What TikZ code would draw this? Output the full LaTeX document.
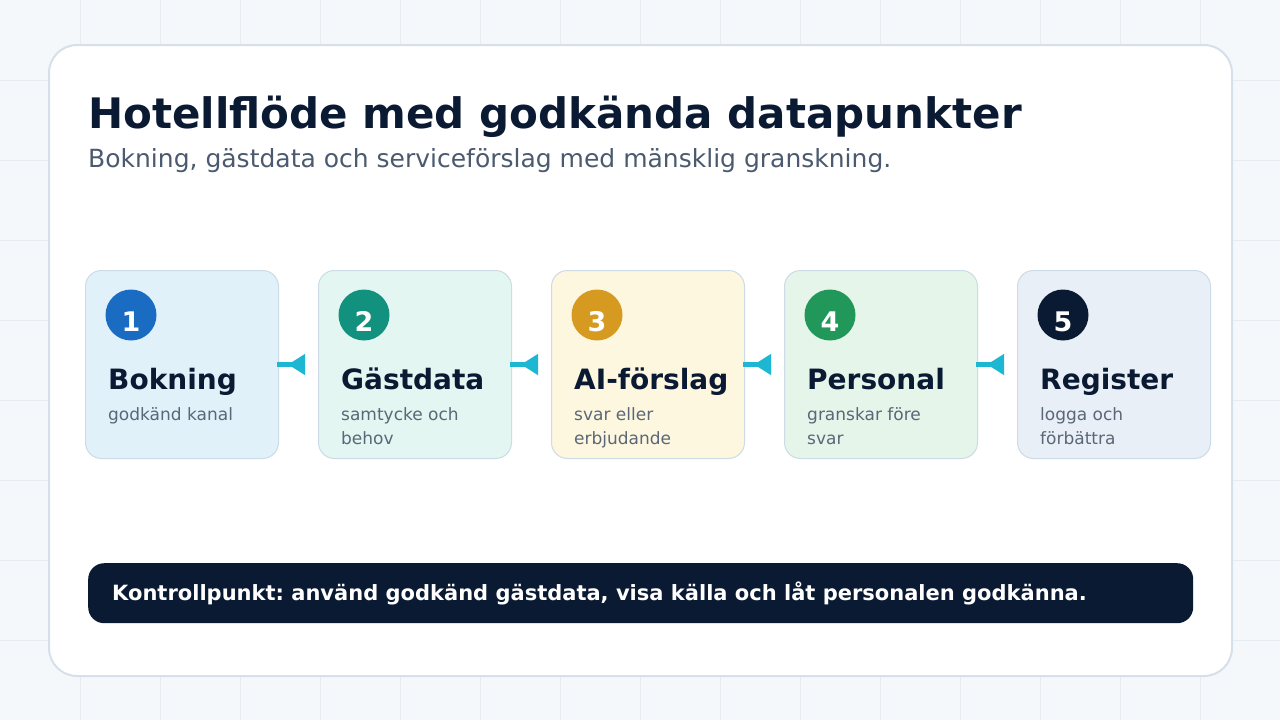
\documentclass[tikz,border=0pt]{standalone}
\usepackage{fontspec}
\setmainfont{DejaVu Sans}
\usepackage{tikz}
\usetikzlibrary{positioning,calc,arrows.meta}
\frenchspacing

\definecolor{ink}{HTML}{0B1A33}
\definecolor{slate}{HTML}{4B5A6E}
\definecolor{muted}{HTML}{5B6778}
\definecolor{paper}{HTML}{F5F8FB}
\definecolor{gridc}{HTML}{E5ECF2}
\definecolor{rim}{HTML}{D6E0EA}
\definecolor{cardrim}{HTML}{CCDBE5}
\definecolor{cyanarrow}{HTML}{1DB7D3}
\definecolor{fillA}{HTML}{E0F1FA}
\definecolor{fillB}{HTML}{E3F6F1}
\definecolor{fillC}{HTML}{FEF7E0}
\definecolor{fillD}{HTML}{E5F5EA}
\definecolor{fillE}{HTML}{E9EFF7}
\definecolor{dotA}{HTML}{1A6CC3}
\definecolor{dotB}{HTML}{13917F}
\definecolor{dotC}{HTML}{D69A21}
\definecolor{dotD}{HTML}{21985A}
\definecolor{dotE}{HTML}{0B1A33}

% lines of a card text, aligned on the first baseline
\newcommand{\cardlines}[1]{\begin{tabular}[t]{@{}l@{}}#1\end{tabular}}

\begin{document}
\begin{tikzpicture}
  [
    x=1pt, y=-1pt,
    gridline/.style = {draw=gridc, line width=1pt},
    panel/.style    = {draw=rim, line width=2pt, fill=white, rounded corners=28pt},
    card/.style     = {draw=cardrim, line width=1pt, rounded corners=16pt,
                       minimum width=193pt, minimum height=188pt, anchor=north west},
    badge/.style    = {circle, minimum size=51pt, inner sep=0pt},
    numeral/.style  = {anchor=base, inner sep=0pt, text=white,
                       font=\fontsize{27}{27}\selectfont\bfseries},
    head/.style     = {anchor=base west, inner sep=0pt, text=ink,
                       font=\fontsize{28}{28}\selectfont\bfseries},
    sub/.style      = {anchor=base west, inner sep=0pt, text=muted,
                       font=\fontsize{17}{24}\selectfont},
    flow/.style     = {draw=cyanarrow, line width=5pt,
                       -{Triangle[reversed, length=17pt, width=20pt, fill=cyanarrow]}},
    bar/.style      = {fill=ink, rounded corners=16pt, anchor=north west,
                       minimum width=1105pt, minimum height=60pt},
  ]

  % background and grid
  \useasboundingbox (0,0) rectangle (1280,720);
  \fill[paper] (0,0) rectangle (1280,720);
  \foreach \x in {80,160,...,1200}
    \draw[gridline] (\x,0) -- (\x,720);
  \foreach \y in {80,160,...,640}
    \draw[gridline] (0,\y) -- (1280,\y);

  % the white panel
  \draw[panel] (49,45) rectangle (1232,676);

  % title lines
  \node (title) at (88,128) [anchor=base west, inner sep=0pt, text=ink,
    font=\fontsize{42}{42}\selectfont\bfseries] {Hotellflöde med godkända datapunkter};
  \node (subtitle) at (88,167) [anchor=base west, inner sep=0pt, text=slate,
    font=\fontsize{25}{25}\selectfont] {Bokning, gästdata och serviceförslag med mänsklig granskning.};

  % the five steps
  \foreach \i/\fc/\dc/\hd/\tx in {
      1/fillA/dotA/Bokning/{godkänd kanal},
      2/fillB/dotB/Gästdata/{samtycke och\\behov},
      3/fillC/dotC/AI-förslag/{svar eller\\erbjudande},
      4/fillD/dotD/Personal/{granskar före\\svar},
      5/fillE/dotE/Register/{logga och\\förbättra}}
    {
      \node (c\i) at (85+233*\i-233,270) [card, fill=\fc] {};
      \node (n\i) at ($(c\i.north west)+(46,45)$) [badge, fill=\dc] {};
      \node (k\i) at ($(c\i.north west)+(46,61)$) [numeral] {\i};
      \node (h\i) at ($(c\i.north west)+(23,119)$) [head] {\hd};
      \node (s\i) at ($(c\i.north west)+(23,150)$) [sub] {\cardlines{\tx}};
    }

  % connectors between the cards
  \foreach \i/\j in {1/2, 2/3, 3/4, 4/5}
    \draw[flow] ([xshift=-2pt]c\i.east) -- ([xshift=-13pt]c\j.west);

  % checkpoint bar
  \node (note) at (88,563) [bar] {};
  \node (notetext) at (112,600) [anchor=base west, inner sep=0pt, text=white,
    font=\fontsize{21}{21}\selectfont\bfseries]
    {Kontrollpunkt: använd godkänd gästdata, visa källa och låt personalen godkänna.};
\end{tikzpicture}
\end{document}
